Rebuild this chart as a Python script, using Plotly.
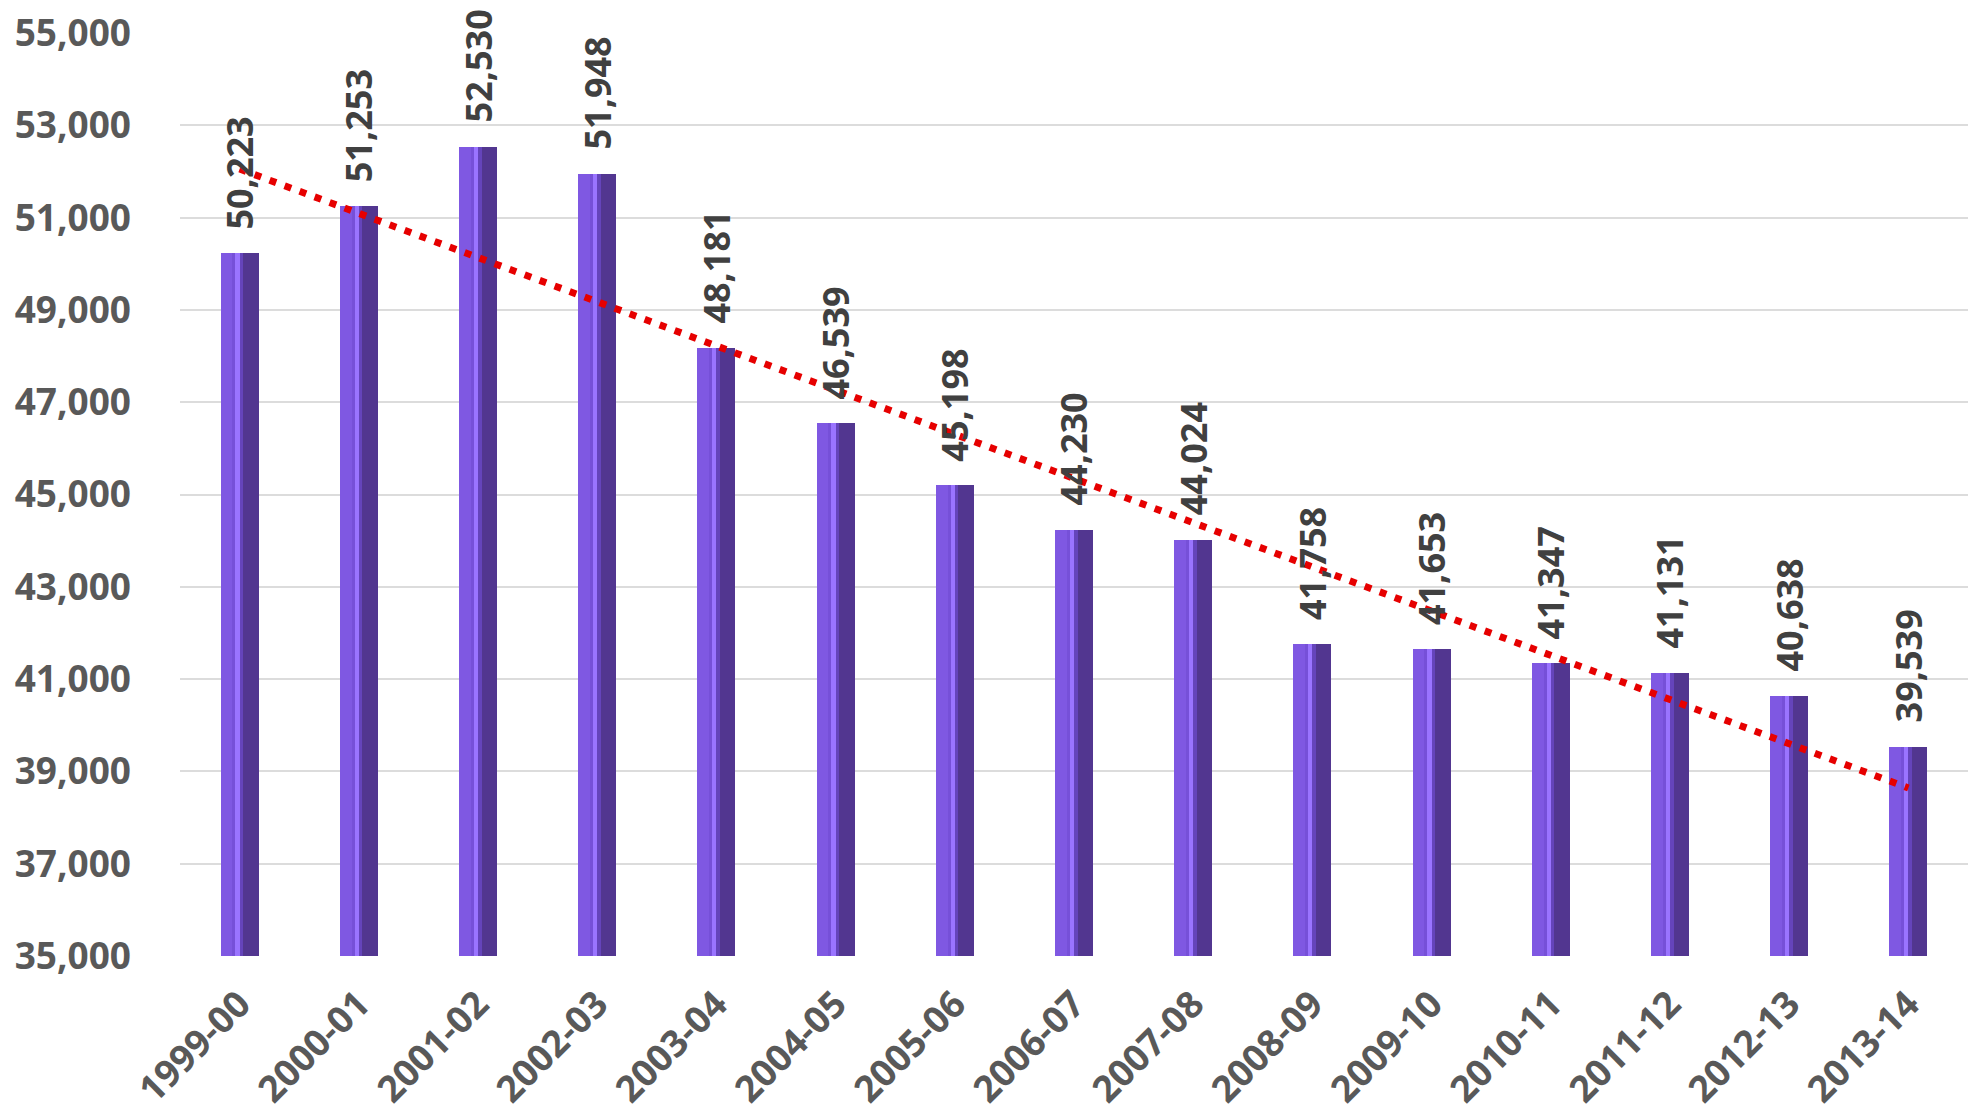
import numpy as np
import plotly.graph_objects as go

categories = ["1999-00", "2000-01", "2001-02", "2002-03", "2003-04", "2004-05", "2005-06",
              "2006-07", "2007-08", "2008-09", "2009-10", "2010-11", "2011-12", "2012-13", "2013-14"]
values = [50223, 51253, 52530, 51948, 48181, 46539, 45198, 44230, 44024,
          41758, 41653, 41347, 41131, 40638, 39539]
y_ticks = [35000, 37000, 39000, 41000, 43000, 45000, 47000, 49000, 51000, 53000, 55000]

FONT = "Noto Sans"
idx = np.arange(len(values))
slope, intercept = np.polyfit(idx, values, 1)
trend = slope * idx + intercept

fig = go.Figure()
W = 0.32
# base bar
fig.add_trace(go.Bar(x=categories, y=values, width=W, offset=-W / 2,
                     marker=dict(color="#7650d8", line=dict(width=0)), hoverinfo="skip"))
# left lighter face
fig.add_trace(go.Bar(x=categories, y=values, width=0.10, offset=-W / 2,
                     marker=dict(color="#7f58e2", line=dict(width=0)), hoverinfo="skip"))
# right dark face
fig.add_trace(go.Bar(x=categories, y=values, width=0.13, offset=W / 2 - 0.13,
                     marker=dict(color="#523690", line=dict(width=0)), hoverinfo="skip"))
# mid transition
fig.add_trace(go.Bar(x=categories, y=values, width=0.05, offset=W / 2 - 0.18,
                     marker=dict(color="#6544bb", line=dict(width=0)), hoverinfo="skip"))
# highlight strip
fig.add_trace(go.Bar(x=categories, y=values, width=0.035, offset=-0.035,
                     marker=dict(color="#9a74ff", line=dict(width=0)), hoverinfo="skip"))

# trendline
fig.add_trace(go.Scatter(x=categories, y=trend, mode="lines",
                         line=dict(color="#e60000", width=7, dash="7px,9px"), hoverinfo="skip"))

for c, v in zip(categories, values):
    fig.add_annotation(x=c, y=v, text=f"{v:,}", textangle=-90, showarrow=False,
                       yanchor="bottom", xanchor="center", yshift=22,
                       font=dict(family=FONT, size=36, color="#404040", weight="bold"))

fig.update_layout(
    width=1972, height=1117,
    margin=dict(l=180, r=4, t=33, b=161),
    paper_bgcolor="white", plot_bgcolor="white",
    barmode="overlay", showlegend=False, bargap=0,
    font=dict(family=FONT, color="#595959"),
)
fig.update_xaxes(type="category", tickangle=-45, showgrid=False, showline=False, zeroline=False,
                 tickfont=dict(family=FONT, size=37, color="#595959", weight="bold"),
                 ticks="", ticklabelstandoff=18)
fig.update_yaxes(range=[35000, 55000], tickvals=y_ticks, tickformat=",d",
                 showgrid=True, gridcolor="#dcdcdc", gridwidth=2, zeroline=False, showline=False,
                 tickfont=dict(family=FONT, size=37, color="#595959", weight="bold"),
                 ticks="", ticklabelstandoff=48)

fig.write_html("out.html")
